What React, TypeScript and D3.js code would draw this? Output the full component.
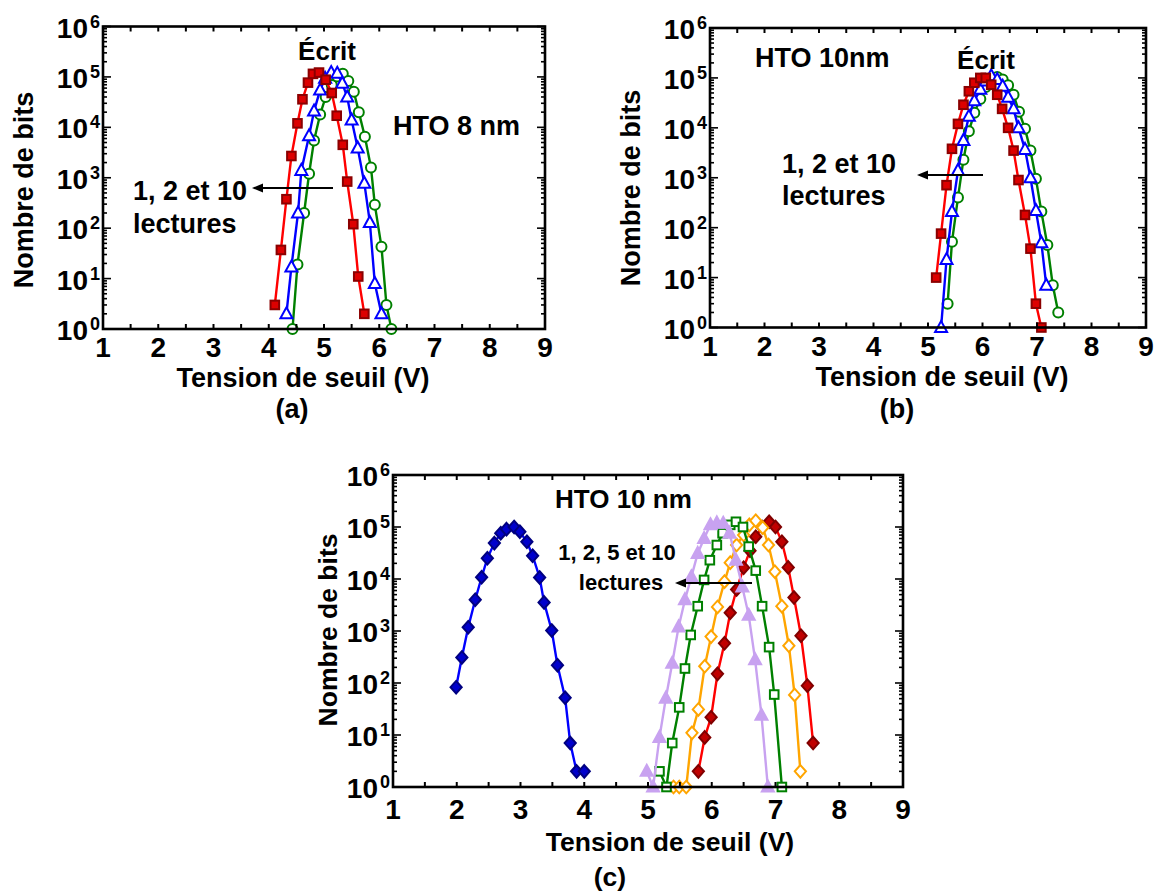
import React from 'react';
import * as d3 from 'd3';

// ---------------- DATA ----------------
// Panel (a) HTO 8 nm
const aRedV = [4.11, 4.22, 4.32, 4.41, 4.52, 4.61, 4.71, 4.80, 4.91, 5.03, 5.14, 5.23, 5.34, 5.42, 5.53, 5.62, 5.73];
const aRedN = [3, 37, 375, 2700, 12000, 36000, 77000, 115000, 122000, 88000, 48000, 17000, 4500, 840, 120, 11, 2];
const aBlueV = [4.32, 4.41, 4.53, 4.59, 4.73, 4.82, 4.93, 5.02, 5.13, 5.24, 5.33, 5.42, 5.50, 5.61, 5.73, 5.83, 5.92, 6.04];
const aBlueN = [2, 17, 200, 1400, 6800, 21000, 55000, 94000, 122000, 118000, 75000, 40000, 14000, 3900, 780, 130, 8, 2];
const aGreenV = [4.43, 4.52, 4.64, 4.73, 4.82, 4.93, 5.03, 5.14, 5.24, 5.34, 5.44, 5.54, 5.63, 5.74, 5.85, 5.92, 6.04, 6.13, 6.22];
const aGreenN = [1, 19, 200, 1200, 5500, 18000, 40000, 69000, 102000, 115000, 83000, 51000, 20000, 6500, 1600, 290, 43, 3, 1];

// Panel (b) HTO 10 nm
const bRedV = [5.15, 5.24, 5.34, 5.44, 5.55, 5.65, 5.75, 5.85, 5.96, 6.06, 6.16, 6.27, 6.36, 6.47, 6.57, 6.66, 6.78, 6.88, 6.98, 7.08];
const bRedN = [10, 76, 710, 3800, 12000, 29000, 54000, 80000, 100000, 100000, 73000, 46000, 24000, 10000, 3500, 900, 180, 38, 3, 1];
const bBlueV = [5.24, 5.34, 5.44, 5.55, 5.65, 5.75, 5.85, 5.96, 6.06, 6.16, 6.27, 6.37, 6.47, 6.57, 6.66, 6.78, 6.88, 6.98, 7.08, 7.17];
const bBlueN = [1, 23, 210, 1400, 5600, 17000, 35000, 59000, 87000, 110000, 93000, 68000, 41000, 24000, 10000, 3700, 1000, 220, 50, 7];
const bGreenV = [5.36, 5.44, 5.55, 5.65, 5.75, 5.85, 5.96, 6.06, 6.16, 6.27, 6.37, 6.47, 6.57, 6.67, 6.78, 6.88, 6.98, 7.08, 7.19, 7.29, 7.39];
const bGreenN = [3, 52, 400, 2300, 8500, 20000, 38000, 66000, 96000, 104000, 93000, 71000, 46000, 21000, 9600, 3500, 960, 210, 45, 7, 2];

// Panel (c) HTO 10 nm
const cBlueV = [1.99, 2.08, 2.18, 2.29, 2.39, 2.48, 2.59, 2.69, 2.78, 2.90, 2.99, 3.10, 3.19, 3.30, 3.37, 3.49, 3.58, 3.70, 3.78, 3.88, 4.00];
const cBlueN = [83, 310, 1180, 4000, 10800, 25000, 49000, 76000, 91000, 100000, 81000, 52000, 28000, 10700, 3550, 1020, 220, 52, 7, 2, 2];
const cLavV = [4.98, 5.08, 5.18, 5.28, 5.38, 5.48, 5.58, 5.68, 5.78, 5.88, 5.98, 6.08, 6.18, 6.28, 6.38, 6.48, 6.58, 6.68, 6.78, 6.88];
const cLavN = [2, 1, 9, 51, 240, 1200, 4000, 11000, 31000, 60000, 110000, 120000, 118000, 76000, 23000, 7000, 2000, 280, 24, 1];
const cGreenV = [5.18, 5.29, 5.38, 5.49, 5.58, 5.67, 5.78, 5.88, 5.97, 6.08, 6.17, 6.29, 6.38, 6.49, 6.58, 6.69, 6.79, 6.90, 6.98, 7.10];
const cGreenN = [2, 1, 7, 34, 190, 840, 3000, 9600, 23000, 45000, 76000, 110000, 126000, 100000, 42000, 14500, 3000, 490, 60, 1];
const cOrangeV = [5.40, 5.49, 5.60, 5.69, 5.79, 5.89, 5.99, 6.09, 6.20, 6.29, 6.39, 6.50, 6.59, 6.69, 6.80, 6.89, 6.99, 7.10, 7.21, 7.30, 7.39];
const cOrangeN = [1, 1, 1, 11, 31, 210, 780, 2900, 8900, 20600, 45000, 70000, 110000, 132000, 97000, 45000, 13800, 3000, 520, 59, 2];
const cRedV = [5.79, 5.89, 5.99, 6.09, 6.20, 6.29, 6.39, 6.50, 6.60, 6.69, 6.79, 6.90, 7.00, 7.10, 7.20, 7.29, 7.40, 7.50, 7.59];
const cRedN = [2, 9, 22, 150, 580, 2240, 6300, 16500, 35000, 65000, 100000, 126000, 100000, 52000, 16700, 4400, 810, 89, 7];

const xDomain = [1, 9];
const yDomain = [1, 1e6];
const xTitle = 'Tension de seuil (V)';
const yTitle = 'Nombre de bits';

// ---------------- RENDER ----------------
const FONT = '"Liberation Sans", Arial, Helvetica, sans-serif';

type MarkerKind = 'square' | 'triangle' | 'circle' | 'diamond';
interface Series {
  v: number[];
  n: number[];
  line: string;
  kind: MarkerKind;
  fill: string;
  stroke: string;
}

function Marker({ kind, cx, cy, fill, stroke }: { kind: MarkerKind; cx: number; cy: number; fill: string; stroke: string }) {
  const sw = 2;
  if (kind === 'square') return <rect x={cx - 4.3} y={cy - 4.3} width={8.6} height={8.6} fill={fill} stroke={stroke} strokeWidth={sw} />;
  if (kind === 'circle') return <circle cx={cx} cy={cy} r={5} fill={fill} stroke={stroke} strokeWidth={sw} />;
  if (kind === 'triangle')
    return <path d={`M${cx},${cy - 6.5}L${cx + 6},${cy + 4.5}L${cx - 6},${cy + 4.5}Z`} fill={fill} stroke={stroke} strokeWidth={sw} strokeLinejoin="miter" />;
  return <path d={`M${cx},${cy - 6.3}L${cx + 5.6},${cy}L${cx},${cy + 6.3}L${cx - 5.6},${cy}Z`} fill={fill} stroke={stroke} strokeWidth={sw} />;
}

interface PanelProps {
  left: number; right: number; top: number; bottom: number;
  series: Series[];
  tickFont: number; supFont: number; titleFont: number;
  xTickBase: number; xTitleBase: number; xTitleX: number;
  yTitleX: number; yTitleY: number;
  sub: string; subX: number; subY: number;
}

function Panel(p: PanelProps) {
  const x = d3.scaleLinear().domain(xDomain).range([p.left, p.right]);
  const y = d3.scaleLog().domain(yDomain).range([p.bottom, p.top]);
  const line = d3.line<[number, number]>().x((d) => x(d[0])).y((d) => y(d[1]));
  const minorX = x.ticks(16);
  const majorX = x.ticks(8);
  const yt = y.ticks();
  const isMajor = (t: number) => Math.abs(Math.log10(t) - Math.round(Math.log10(t))) < 1e-9;
  return (
    <g>
      {p.series.map((s, i) => {
        const pts: [number, number][] = s.v.map((v, j) => [v, s.n[j]]);
        return (
          <g key={i}>
            <path d={line(pts) || ''} fill="none" stroke={s.line} strokeWidth={2.4} />
            {pts.map((d, j) => (
              <Marker key={j} kind={s.kind} cx={x(d[0])} cy={y(d[1])} fill={s.fill} stroke={s.stroke} />
            ))}
          </g>
        );
      })}
      <rect x={p.left} y={p.top} width={p.right - p.left} height={p.bottom - p.top} fill="none" stroke="#000" strokeWidth={2.6} />
      {minorX.map((t, i) => (
        <g key={'xt' + i}>
          <line x1={x(t)} x2={x(t)} y1={p.bottom} y2={p.bottom - 5} stroke="#000" strokeWidth={2} />
          <line x1={x(t)} x2={x(t)} y1={p.top} y2={p.top + 5} stroke="#000" strokeWidth={2} />
        </g>
      ))}
      {yt.map((t, i) => {
        const L = isMajor(t) ? 8 : 4;
        return (
          <g key={'yt' + i}>
            <line x1={p.left} x2={p.left + L} y1={y(t)} y2={y(t)} stroke="#000" strokeWidth={1.6} />
            <line x1={p.right} x2={p.right - L} y1={y(t)} y2={y(t)} stroke="#000" strokeWidth={1.6} />
          </g>
        );
      })}
      {majorX.map((t, i) => (
        <text key={'xl' + i} x={x(t)} y={p.xTickBase} textAnchor="middle" fontSize={p.tickFont} fontWeight="bold" fontFamily={FONT}>
          {t}
        </text>
      ))}
      {yt.filter(isMajor).map((t, i) => {
        const e = Math.round(Math.log10(t));
        return (
          <g key={'yl' + i}>
            <text x={p.left - 15} y={y(t) + 11} textAnchor="end" fontSize={p.tickFont} fontWeight="bold" fontFamily={FONT}>10</text>
            <text x={p.left - 3} y={y(t) + 1} textAnchor="end" fontSize={p.supFont} fontWeight="bold" fontFamily={FONT}>{e}</text>
          </g>
        );
      })}
      <text x={p.xTitleX} y={p.xTitleBase} textAnchor="middle" fontSize={p.titleFont} fontWeight="bold" fontFamily={FONT}>{xTitle}</text>
      <text transform={`translate(${p.yTitleX},${p.yTitleY}) rotate(-90)`} textAnchor="middle" fontSize={p.titleFont} fontWeight="bold" fontFamily={FONT}>{yTitle}</text>
      <text x={p.subX} y={p.subY} textAnchor="middle" fontSize={p.titleFont} fontWeight="bold" fontFamily={FONT}>{p.sub}</text>
    </g>
  );
}

function Label({ x, y, text, size, anchor = 'start' }: { x: number; y: number; text: string; size: number; anchor?: string }) {
  return (
    <text x={x} y={y} textAnchor={anchor as any} fontSize={size} fontWeight="bold" fontFamily={FONT}>{text}</text>
  );
}

function Arrow({ x1, x2, y }: { x1: number; x2: number; y: number }) {
  return (
    <g>
      <line x1={x1} x2={x2 + 8} y1={y} y2={y} stroke="#000" strokeWidth={2.2} />
      <path d={`M${x2},${y}L${x2 + 11},${y - 4.5}L${x2 + 11},${y + 4.5}Z`} fill="#000" />
    </g>
  );
}

const RED = { line: '#ff0000', fill: '#dd0000', stroke: '#8b0000' };

export default function App() {
  const seriesA: Series[] = [
    { v: aGreenV, n: aGreenN, line: '#008000', kind: 'circle', fill: '#ffffff', stroke: '#008000' },
    { v: aBlueV, n: aBlueN, line: '#0000ff', kind: 'triangle', fill: '#ffffff', stroke: '#0000ff' },
    { v: aRedV, n: aRedN, line: RED.line, kind: 'square', fill: RED.fill, stroke: RED.stroke },
  ];
  const seriesB: Series[] = [
    { v: bGreenV, n: bGreenN, line: '#008000', kind: 'circle', fill: '#ffffff', stroke: '#008000' },
    { v: bBlueV, n: bBlueN, line: '#0000ff', kind: 'triangle', fill: '#ffffff', stroke: '#0000ff' },
    { v: bRedV, n: bRedN, line: RED.line, kind: 'square', fill: RED.fill, stroke: RED.stroke },
  ];
  const seriesC: Series[] = [
    { v: cBlueV, n: cBlueN, line: '#0000ff', kind: 'diamond', fill: '#0000cc', stroke: '#000080' },
    { v: cRedV, n: cRedN, line: RED.line, kind: 'diamond', fill: '#c00000', stroke: '#800000' },
    { v: cOrangeV, n: cOrangeN, line: '#ffa500', kind: 'diamond', fill: '#ffffff', stroke: '#ffa500' },
    { v: cGreenV, n: cGreenN, line: '#008000', kind: 'square', fill: '#ffffff', stroke: '#008000' },
    { v: cLavV, n: cLavN, line: '#c8a2f0', kind: 'triangle', fill: '#c8a2f0', stroke: '#c8a2f0' },
  ];
  return (
    <svg width={1156} height={892} style={{ position: 'absolute', left: 0, top: 0, background: '#fff' }}>
      <rect width={1156} height={892} fill="#fff" />
      <Panel left={103} right={545} top={26.5} bottom={329} series={seriesA}
        tickFont={28} supFont={18} titleFont={27}
        xTickBase={357} xTitleBase={387} xTitleX={303}
        yTitleX={33} yTitleY={190} sub="(a)" subX={292} subY={418} />
      <Panel left={710} right={1146} top={28} bottom={327.5} series={seriesB}
        tickFont={28} supFont={18} titleFont={27}
        xTickBase={356} xTitleBase={386} xTitleX={942}
        yTitleX={640} yTitleY={188} sub="(b)" subX={897} subY={418} />
      <Panel left={393} right={903} top={475} bottom={787} series={seriesC}
        tickFont={28} supFont={18} titleFont={26.5}
        xTickBase={819} xTitleBase={851} xTitleX={670}
        yTitleX={337} yTitleY={630} sub="(c)" subX={610} subY={886} />

      <Label x={327} y={60} text="Écrit" size={26} anchor="middle" />
      <Label x={393} y={135} text="HTO 8 nm" size={27} />
      <Label x={133} y={200} text="1, 2 et 10" size={27} />
      <Label x={133} y={233} text="lectures" size={27} />
      <Arrow x1={333} x2={252} y={188} />

      <Label x={755} y={67} text="HTO 10nm" size={27} />
      <Label x={986} y={69} text="Écrit" size={26} anchor="middle" />
      <Label x={782} y={173} text="1, 2 et 10" size={27} />
      <Label x={782} y={205} text="lectures" size={27} />
      <Arrow x1={983} x2={917} y={175} />

      <Label x={555} y={508} text="HTO 10 nm" size={26} />
      <Label x={617} y={560} text="1, 2, 5 et 10" size={22} anchor="middle" />
      <Label x={621} y={590} text="lectures" size={22} anchor="middle" />
      <Arrow x1={752} x2={675} y={583} />
    </svg>
  );
}
